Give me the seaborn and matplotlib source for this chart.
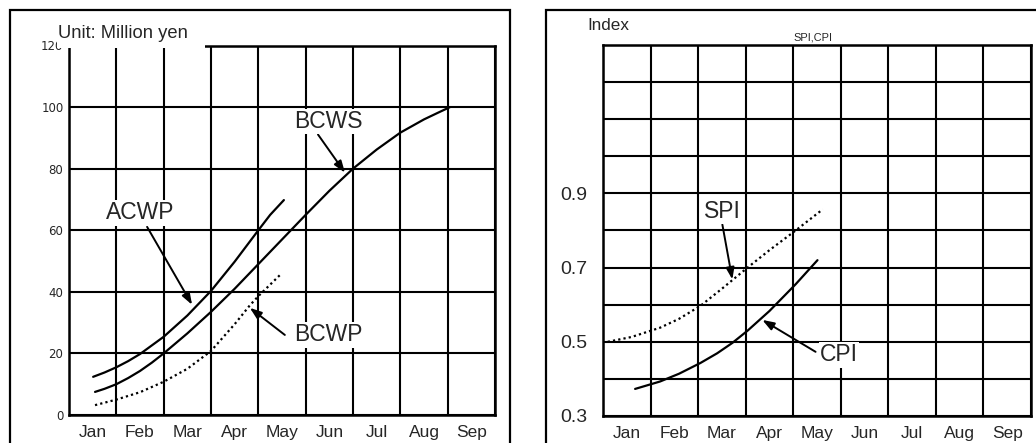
import numpy as np
import pandas as pd
import matplotlib
matplotlib.use("Agg")
import matplotlib.pyplot as plt
from matplotlib.patches import Rectangle
import seaborn as sns

# Month columns; curve x positions are in column units (month i spans i..i+1)
months = ["Jan", "Feb", "Mar", "Apr", "May", "Jun", "Jul", "Aug", "Sep"]

# Cost curves (million yen)
bcws_x = [0.55, 0.75, 1.0, 1.25, 1.5, 1.75, 2.0, 2.5, 3.0, 3.5, 4.0, 4.5, 5.0, 5.5,
          6.0, 6.5, 7.0, 7.5, 7.8, 8.05]
bcws_y = [7.5, 8.5, 10.0, 12.0, 14.3, 17.0, 20.0, 26.5, 33.5, 41.0, 49.0, 57.0, 65.0,
          72.8, 80.0, 86.2, 91.7, 96.0, 98.2, 100.0]
acwp_x = [0.51, 0.75, 1.0, 1.25, 1.5, 2.0, 2.5, 3.0, 3.5, 4.0, 4.25, 4.54]
acwp_y = [12.4, 13.8, 15.5, 17.5, 19.8, 25.4, 32.3, 40.3, 49.8, 60.0, 65.0, 69.8]
bcwp_x = [0.55, 1.0, 1.5, 2.0, 2.5, 3.0, 3.5, 3.82, 4.0, 4.46]
bcwp_y = [3.2, 5.0, 7.4, 10.8, 15.0, 20.8, 29.5, 35.6, 38.6, 45.5]

# Performance indices
spi_x = [0.1, 0.6, 1.2, 1.6, 2.05, 2.5, 3.04, 3.5, 4.05, 4.62]
spi_y = [0.500, 0.513, 0.538, 0.562, 0.597, 0.643, 0.700, 0.747, 0.800, 0.857]
cpi_x = [0.675, 1.2, 1.6, 2.05, 2.4, 2.72, 3.04, 3.5, 4.05, 4.51]
cpi_y = [0.373, 0.393, 0.414, 0.443, 0.469, 0.497, 0.530, 0.583, 0.655, 0.720]

left_yticks = [0, 20, 40, 60, 80, 100, 120]
right_grid = [0.3, 0.4, 0.5, 0.6, 0.7, 0.8, 0.9, 1.0, 1.1, 1.2, 1.3]
right_labels = ["0.3", "", "0.5", "", "0.7", "", "0.9", "", "", "", ""]

cost = pd.concat([
    pd.DataFrame({"x": bcws_x, "y": bcws_y, "series": "BCWS"}),
    pd.DataFrame({"x": acwp_x, "y": acwp_y, "series": "ACWP"}),
    pd.DataFrame({"x": bcwp_x, "y": bcwp_y, "series": "BCWP"}),
], ignore_index=True)
index = pd.concat([
    pd.DataFrame({"x": spi_x, "y": spi_y, "series": "SPI"}),
    pd.DataFrame({"x": cpi_x, "y": cpi_y, "series": "CPI"}),
], ignore_index=True)

sns.set_style("white")
plt.rcParams["font.family"] = ["Liberation Sans", "DejaVu Sans"]

W, H = 1036, 443
fig = plt.figure(figsize=(W / 100, H / 100), dpi=100)


def px_axes(l, t, r, b):
    return fig.add_axes([l / W, 1 - b / H, (r - l) / W, (b - t) / H])


ax1 = px_axes(69, 45.5, 495, 415)
ax2 = px_axes(603, 45, 1031, 416)

DOT = (1, 1.4)
black = {"BCWS": "black", "ACWP": "black", "BCWP": "black", "SPI": "black", "CPI": "black"}

sns.lineplot(data=cost, x="x", y="y", hue="series", style="series", palette=black,
             dashes={"BCWS": "", "ACWP": "", "BCWP": DOT}, sort=False,
             linewidth=1.6, legend=False, ax=ax1, estimator=None)
sns.lineplot(data=index, x="x", y="y", hue="series", style="series", palette=black,
             dashes={"SPI": DOT, "CPI": ""}, sort=False,
             linewidth=1.6, legend=False, ax=ax2, estimator=None)

for ax in (ax1, ax2):
    ax.set_xlim(0, 9)
    ax.set_xticks(np.arange(0, 10))
    ax.set_xticklabels([])
    ax.set_xticks(np.arange(9) + 0.5, minor=True)
    ax.set_xticklabels(months, minor=True, fontsize=12.5)
    ax.tick_params(axis="x", which="both", length=0)
    ax.tick_params(axis="x", which="minor", pad=7)
    ax.grid(True, which="major", color="black", linewidth=1.5)
    ax.set_xlabel("")
    ax.set_ylabel("")
    for s in ax.spines.values():
        s.set_color("black")
        s.set_linewidth(1.8)

ax1.set_ylim(0, 120)
ax1.set_yticks(left_yticks)
ax1.set_yticklabels([str(v) for v in left_yticks], fontsize=8.5, family="DejaVu Sans")
ax1.tick_params(axis="y", length=0, pad=4)

ax2.set_ylim(0.3, 1.3)
ax2.set_yticks(right_grid)
ax2.set_yticklabels(right_labels, fontsize=14)
ax2.tick_params(axis="y", length=0, pad=11)

arrow = dict(arrowstyle="-|>,head_length=0.7,head_width=0.25", color="black",
             lw=1.4, shrinkA=0, shrinkB=0)
lab = dict(fontsize=16.5, ha="center", va="center")

ax1.annotate("", xy=(2.60, 35.8), xytext=(1.65, 61.1), arrowprops=arrow)
ax1.text(1.50, 65.7, "ACWP", bbox=dict(fc="white", ec="none", pad=1), **lab)
ax1.annotate("", xy=(5.83, 78.7), xytext=(5.26, 91.1), arrowprops=arrow)
ax1.text(5.49, 95.3, "BCWS", bbox=dict(fc="white", ec="none", pad=1), **lab)
ax1.annotate("", xy=(3.82, 34.8), xytext=(4.56, 26.0), arrowprops=arrow)
ax1.text(5.47, 26.0, "BCWP", bbox=dict(fc="white", ec="none", pad=1), **lab)

ax2.annotate("", xy=(2.72, 0.668), xytext=(2.51, 0.816), arrowprops=arrow)
ax2.text(2.51, 0.851, "SPI", bbox=dict(fc="white", ec="none", pad=1), **lab)
ax2.annotate("", xy=(3.35, 0.559), xytext=(4.47, 0.473), arrowprops=arrow)
ax2.text(4.96, 0.465, "CPI", bbox=dict(fc="white", ec="none", pad=1), **lab)

# Panel frames
for (l, r) in ((10, 510), (546, 1060)):
    fig.add_artist(Rectangle((l / W, -0.1), (r - l) / W, 1.1 - 10 / H,
                             transform=fig.transFigure, fill=False,
                             edgecolor="black", linewidth=1.6, zorder=1))

# Unit caption sits on a white patch over the top of the left plot
fig.add_artist(Rectangle((57 / W, 1 - 48 / H), (205 - 57) / W, 28 / H,
                         transform=fig.transFigure, facecolor="white",
                         edgecolor="none", zorder=5))
fig.text(58 / W, 1 - 33 / H, "Unit: Million yen", fontsize=13.2,
         ha="left", va="center", zorder=6)

fig.text(587 / W, 1 - 25 / H, "Index", fontsize=12.3, ha="left", va="center")
fig.text(813 / W, 1 - 37 / H, "SPI,CPI", fontsize=7.9, ha="center", va="center")

fig.savefig("out.png", dpi=100)
